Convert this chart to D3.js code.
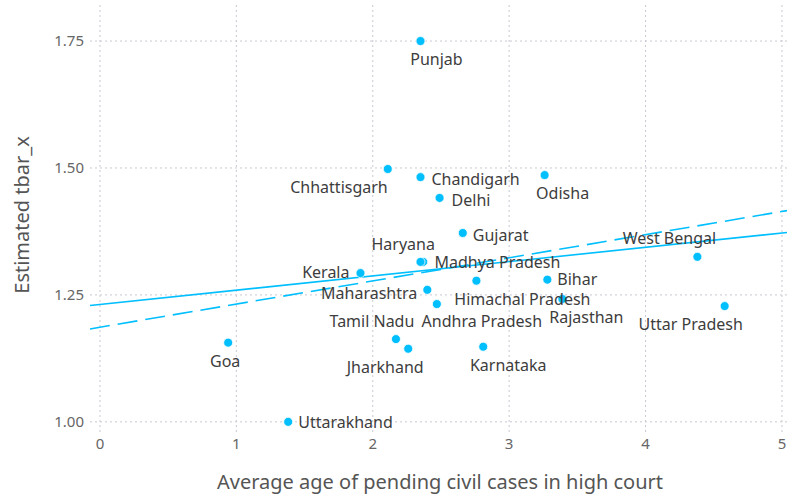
<!DOCTYPE html>
<html>
<head>
<meta charset="utf-8">
<script src="https://cdn.jsdelivr.net/npm/d3@7"></script>
<style>
  body { margin: 0; background: #fff; }
  text { font-family: "Noto Sans", "Open Sans", sans-serif; }
</style>
</head>
<body>
<div id="chart"></div>
<script>
// states, with average age of pending civil cases (x) and estimated tbar_x (y)
var states = ["Punjab", "Chhattisgarh", "Chandigarh", "Odisha", "Delhi", "Gujarat", "West Bengal",
  "Haryana", "Madhya Pradesh", "Kerala", "Himachal Pradesh", "Bihar", "Maharashtra", "Rajasthan",
  "Andhra Pradesh", "Uttar Pradesh", "Goa", "Tamil Nadu", "Jharkhand", "Karnataka", "Uttarakhand"];
var ageValues = [2.35, 2.11, 2.35, 3.26, 2.49, 2.66, 4.38,
  2.37, 2.35, 1.91, 2.76, 3.28, 2.40, 3.39,
  2.47, 4.58, 0.94, 2.17, 2.26, 2.81, 1.38];
var tbarValues = [1.750, 1.498, 1.482, 1.486, 1.441, 1.372, 1.325,
  1.315, 1.315, 1.293, 1.278, 1.280, 1.260, 1.242,
  1.232, 1.228, 1.156, 1.163, 1.144, 1.148, 1.000];

// fitted lines (end points)
var solidFit = [[-0.073, 1.229], [5.037, 1.373]];
var dashedFit = [[-0.073, 1.183], [5.037, 1.416]];

var xTicks = [0, 1, 2, 3, 4, 5];
var yTicks = [1.00, 1.25, 1.50, 1.75];

// where each label sits relative to its point
var labelPos = {
  "Punjab": [16, 24, "middle"], "Chhattisgarh": [0, 24, "end"], "Chandigarh": [11, 8, "start"],
  "Odisha": [18, 24, "middle"], "Delhi": [12, 8, "start"], "Gujarat": [10, 8, "start"],
  "West Bengal": [-28, -13, "middle"], "Madhya Pradesh": [14, 6, "start"], "Haryana": [-20, -12, "middle"],
  "Kerala": [-11, 5, "end"], "Himachal Pradesh": [46, 24, "middle"], "Bihar": [10, 5, "start"],
  "Maharashtra": [-10, 9, "end"], "Rajasthan": [24, 24, "middle"], "Andhra Pradesh": [45, 23, "middle"],
  "Uttar Pradesh": [-34, 24, "middle"], "Goa": [-3, 24, "middle"], "Tamil Nadu": [-24, -12, "middle"],
  "Jharkhand": [-23, 24, "middle"], "Karnataka": [25, 24, "middle"], "Uttarakhand": [10, 6, "start"]
};

var width = 787, height = 497;
var plot = { left: 90, right: 787, top: 5, bottom: 432 };

var svg = d3.select("#chart")
  .append("svg")
  .attr("width", width)
  .attr("height", height);

var x = d3.scaleLinear()
  .domain([-0.073, 5.037])
  .range([plot.left, plot.right]);
var y = d3.scaleLinear()
  .domain([0.980, 1.821])
  .range([plot.bottom, plot.top]);

// grid
svg.append("g")
  .selectAll("line")
  .data(xTicks)
  .enter()
  .append("line")
  .attr("x1", function (d) { return x(d); })
  .attr("x2", function (d) { return x(d); })
  .attr("y1", plot.top)
  .attr("y2", plot.bottom)
  .attr("stroke", "#c8c8d2")
  .attr("stroke-dasharray", "2,3");
svg.append("g")
  .selectAll("line")
  .data(yTicks)
  .enter()
  .append("line")
  .attr("x1", plot.left)
  .attr("x2", plot.right)
  .attr("y1", function (d) { return y(d); })
  .attr("y2", function (d) { return y(d); })
  .attr("stroke", "#c8c8d2")
  .attr("stroke-dasharray", "2,3");

// tick labels
svg.append("g")
  .selectAll("text")
  .data(xTicks)
  .enter()
  .append("text")
  .attr("x", function (d) { return x(d); })
  .attr("y", plot.bottom + 17)
  .attr("text-anchor", "middle")
  .style("font-size", "15px")
  .style("fill", "#666")
  .text(function (d) { return d; });
svg.append("g")
  .selectAll("text")
  .data(yTicks)
  .enter()
  .append("text")
  .attr("x", plot.left - 6)
  .attr("y", function (d) { return y(d) + 5; })
  .attr("text-anchor", "end")
  .style("font-size", "15px")
  .style("fill", "#666")
  .text(function (d) { return d3.format(".2f")(d); });

// axis titles
svg.append("text")
  .attr("x", 440)
  .attr("y", 489)
  .attr("text-anchor", "middle")
  .style("font-size", "20px")
  .style("fill", "#555")
  .text("Average age of pending civil cases in high court");
svg.append("text")
  .attr("transform", "translate(29,215) rotate(-90)")
  .attr("text-anchor", "middle")
  .style("font-size", "20px")
  .style("fill", "#555")
  .text("Estimated tbar_x");

// fit lines
var line = d3.line()
  .x(function (d) { return x(d[0]); })
  .y(function (d) { return y(d[1]); });
svg.append("path")
  .attr("d", line(solidFit))
  .attr("fill", "none")
  .attr("stroke", "#00bfff")
  .attr("stroke-width", 1.6);
svg.append("path")
  .attr("d", line(dashedFit))
  .attr("fill", "none")
  .attr("stroke", "#00bfff")
  .attr("stroke-width", 1.6)
  .attr("stroke-dasharray", "20,8");

// points
var pts = states.map(function (s, i) { return { name: s, x: ageValues[i], y: tbarValues[i] }; });
svg.append("g")
  .selectAll("circle")
  .data(pts)
  .enter()
  .append("circle")
  .attr("cx", function (d) { return x(d.x); })
  .attr("cy", function (d) { return y(d.y); })
  .attr("r", 4.5)
  .attr("fill", "#00bfff")
  .attr("stroke", "#fff")
  .attr("stroke-width", 0.8);

// labels
svg.append("g")
  .selectAll("text")
  .data(pts)
  .enter()
  .append("text")
  .attr("x", function (d) { return x(d.x) + labelPos[d.name][0]; })
  .attr("y", function (d) { return y(d.y) + labelPos[d.name][1]; })
  .attr("text-anchor", function (d) { return labelPos[d.name][2]; })
  .style("font-size", "16px")
  .style("fill", "#3d3d3d")
  .text(function (d) { return d.name; });
</script>
</body>
</html>
